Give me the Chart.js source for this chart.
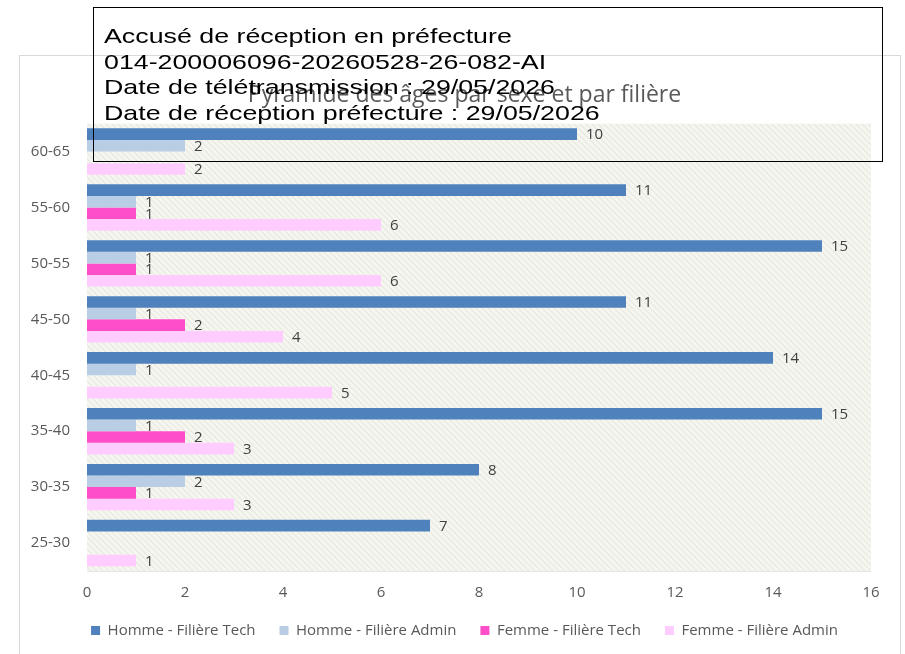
<!DOCTYPE html>
<html><head><meta charset="utf-8">
<script src="https://cdn.jsdelivr.net/npm/chart.js@4/dist/chart.umd.min.js"></script>
<style>
html,body{margin:0;padding:0;width:905px;height:654px;overflow:hidden;background:#fff;}
#frame{position:absolute;left:19px;top:55px;width:882px;height:700px;border:1px solid #d9d9d9;box-sizing:border-box;}
#c{position:absolute;left:0;top:0;}
#stamp{position:absolute;left:93px;top:7px;width:790px;height:155px;border:1.5px solid #000;box-sizing:border-box;}
.sl{position:absolute;left:10px;font-family:"Liberation Sans",Arial,sans-serif;font-size:21px;line-height:25.7px;color:#000;white-space:nowrap;transform-origin:0 0;transform:scaleX(1.275);}
</style></head>
<body>
<div id="frame"></div>
<canvas id="c" width="905" height="648"></canvas>
<div id="stamp">
<div class="sl" style="top:15px">Accusé de réception en préfecture</div>
<div class="sl" style="top:40.7px">014-200006096-20260528-26-082-AI</div>
<div class="sl" style="top:66.4px">Date de télétransmission : 29/05/2026</div>
<div class="sl" style="top:92.1px">Date de réception préfecture : 29/05/2026</div>
</div>
<script>
const categories = ["60-65","55-60","50-55","45-50","40-45","35-40","30-35","25-30"];
const hommeTech  = [10, 11, 15, 11, 14, 15, 8, 7];
const hommeAdmin = [2, 1, 1, 1, 1, 1, 2, null];
const femmeTech  = [null, 1, 1, 2, null, 2, 1, null];
const femmeAdmin = [2, 6, 6, 4, 5, 3, 3, 1];
const seriesNames = ["Homme - Filière Tech","Homme - Filière Admin","Femme - Filière Tech","Femme - Filière Admin"];
const xTicks = [0,2,4,6,8,10,12,14,16];
const title = "Pyramide des âges par sexe et par filière";

const FONT = '"Open Sans", "Noto Sans", sans-serif';

function makePattern(){
  const p = document.createElement('canvas');
  p.width = 6; p.height = 6;
  const g = p.getContext('2d');
  g.fillStyle = '#f6f6f1'; g.fillRect(0,0,6,6);
  g.strokeStyle = '#e8e8e0'; g.lineWidth = 1.2;
  g.beginPath(); g.moveTo(-1,-1); g.lineTo(7,7); g.moveTo(-4,2); g.lineTo(2,8); g.moveTo(2,-4); g.lineTo(8,2); g.stroke();
  return p;
}

const bgPlugin = {
  id:'bgPattern',
  beforeDatasetsDraw(chart){
    const {ctx, chartArea:a} = chart;
    ctx.save();
    ctx.fillStyle = ctx.createPattern(makePattern(),'repeat');
    ctx.fillRect(a.left, a.top, a.right-a.left, a.bottom-a.top);
    ctx.strokeStyle = '#e6e6e6'; ctx.lineWidth = 1;
    ctx.beginPath(); ctx.moveTo(a.left, a.bottom+0.5); ctx.lineTo(a.right, a.bottom+0.5); ctx.stroke();
    ctx.restore();
  }
};

const labelPlugin = {
  id:'valueLabels',
  afterDatasetsDraw(chart){
    const ctx = chart.ctx;
    ctx.save();
    ctx.font = '15px ' + FONT;
    ctx.fillStyle = '#404040';
    ctx.textAlign = 'left';
    ctx.textBaseline = 'middle';
    chart.data.datasets.forEach((ds,i)=>{
      chart.getDatasetMeta(i).data.forEach((bar,j)=>{
        const v = ds.data[j];
        if (v == null || v === 0) return;
        ctx.fillText(String(v), bar.x + 9, bar.y + 1);
      });
    });
    ctx.restore();
  }
};

const colors = ['#4F81BD','#B9CDE5','#FF4FC8','#FFCCFF'];
const values = [hommeTech, hommeAdmin, femmeTech, femmeAdmin];

new Chart(document.getElementById('c'), {
  type:'bar',
  data:{
    labels: categories,
    datasets: values.map((d,i)=>({
      label: seriesNames[i], data: d, backgroundColor: colors[i], borderWidth:0,
      barPercentage:1.0, categoryPercentage:0.83
    }))
  },
  options:{
    indexAxis:'y',
    responsive:false,
    animation:false,
    layout:{padding:{left:24, right:0, top:0, bottom:0}},
    scales:{
      x:{
        min:0, max:16,
        afterBuildTicks(s){ s.ticks = xTicks.map(v=>({value:v})); },
        afterFit(s){ s.height = 28; },
        grid:{display:false, drawTicks:false},
        border:{display:false},
        ticks:{color:'#595959', font:{family:FONT, size:15}, padding:13, maxRotation:0}
      },
      y:{
        afterFit(s){ s.width = 63; },
        grid:{display:false, drawTicks:false},
        border:{display:false},
        ticks:{color:'#595959', font:{family:FONT, size:15}, padding:17}
      },
      yRight:{
        type:'linear', position:'right', display:true,
        afterFit(s){ s.width = 34; },
        grid:{display:false, drawTicks:false},
        border:{display:false},
        ticks:{display:false}
      }
    },
    plugins:{
      title:{display:true, text:title, color:'#595959', font:{family:FONT, size:23, weight:'normal'}, padding:{top:82, bottom:14}},
      legend:{position:'bottom', labels:{color:'#595959', font:{family:FONT, size:15}, boxWidth:9, boxHeight:9, padding:24}},
      tooltip:{enabled:false}
    }
  },
  plugins:[bgPlugin, labelPlugin]
});
</script>
</body></html>
